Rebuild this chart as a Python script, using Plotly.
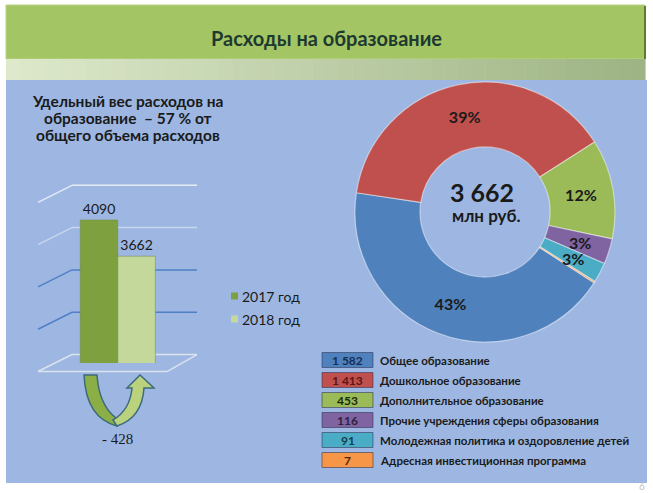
import math
import plotly.graph_objects as go

W, H = 653, 493

# ---------------- data ----------------
title_text = "Расходы на образование"
share_lines = ["Удельный вес расходов на", "образование  – 57 % от", "общего объема расходов"]
years = ["2017 год", "2018 год"]
totals = [4090, 3662]
year_colors = ["#7FA03F", "#C4D89C"]

categories = ["Общее образование", "Дошкольное образование", "Дополнительное образование",
              "Прочие учреждения сферы образования", "Молодежная политика и оздоровление детей",
              "Адресная инвестиционная программа"]
amounts = [1582, 1413, 453, 116, 91, 7]
amount_labels = ["1 582", "1 413", "453", "116", "91", "7"]
pct_labels = ["43%", "39%", "12%", "3%", "3%", ""]
slice_colors = ["#4F81BD", "#C0504D", "#9BBB59", "#8064A2", "#4BACC6", "#F79646"]
box_text_colors = ["#172E55", "#5A1514", "#1A2A0A", "#2E2240", "#143F4C", "#4A2406"]
center_total = "3 662"
center_unit = "млн руб."
page_no = "6"

FONT = "Lato"
DARK = "#1A1A1A"


def px(x):
    return x / W


def py(y):
    return 1 - y / H


shapes = []
annotations = []


def note(text, x, y, size, color=DARK, bold=False, family=FONT, xanchor="center", align="center"):
    annotations.append(dict(text=text, x=px(x), y=py(y), xref="paper", yref="paper",
                            xanchor=xanchor, yanchor="middle", showarrow=False, align=align,
                            font=dict(family=family, size=size, color=color,
                                      weight="bold" if bold else "normal")))


# ---------------- slide background ----------------
shapes.append(dict(type="rect", xref="paper", yref="paper", layer="below",
                   x0=px(6), x1=px(647), y0=py(483), y1=py(80),
                   fillcolor="#9DB7E2", line=dict(width=0)))
shapes.append(dict(type="rect", xref="paper", yref="paper", layer="below",
                   x0=px(6), x1=px(645), y0=py(59), y1=py(5),
                   fillcolor="#A3C564", line=dict(color="#B9D484", width=1)))
shapes.append(dict(type="line", xref="paper", yref="paper", layer="below",
                   x0=px(645), x1=px(645), y0=py(59), y1=py(6),
                   line=dict(color="#5F7A33", width=2)))
n_strip = 48
c0, c1 = (222, 233, 204), (158, 180, 132)
for i in range(n_strip):
    t = i / (n_strip - 1)
    col = tuple(int(c0[k] + (c1[k] - c0[k]) * t) for k in range(3))
    xa = 6 + (645 - 6) * i / n_strip
    xb = 6 + (645 - 6) * (i + 1) / n_strip + 0.6
    shapes.append(dict(type="rect", xref="paper", yref="paper", layer="below",
                       x0=px(xa), x1=px(xb), y0=py(80), y1=py(59),
                       fillcolor="rgb(%d,%d,%d)" % col, line=dict(width=0)))

note(title_text, 326, 38, 20, color="#1E3A30", bold=True)
for i, line in enumerate(share_lines):
    note(line, 127.5, 101 + 17 * i, 15.5, bold=True)
note(page_no, 642, 486, 10, color="#BFBFBF")

# ---------------- bar chart (left) ----------------
Y0, Y1 = 2400, 5000
BAR_TOP_PX, BAR_BOT_PX = 143, 363


def vpx(v):
    return BAR_BOT_PX - (v - Y0) * (BAR_BOT_PX - BAR_TOP_PX) / (Y1 - Y0)


grid_vals = [2500, 3000, 3500, 4000, 4500]
grid_cols = ["#DCE3EE", "#4F7FC6", "#4F7FC6", "#C8D6EE", "#E4EBF6"]
for v, c in zip(grid_vals, grid_cols):
    yb = vpx(v)
    shapes.append(dict(type="line", xref="paper", yref="paper", layer="below",
                       x0=px(72), x1=px(197), y0=py(yb), y1=py(yb), line=dict(color=c, width=1.5)))
    shapes.append(dict(type="line", xref="paper", yref="paper", layer="below",
                       x0=px(72), x1=px(38), y0=py(yb), y1=py(yb + 17), line=dict(color=c, width=1.5)))
fy = vpx(grid_vals[0])
shapes.append(dict(type="line", xref="paper", yref="paper", layer="below",
                   x0=px(38), x1=px(167), y0=py(fy + 17), y1=py(fy + 17), line=dict(color="#DCE3EE", width=1.5)))
shapes.append(dict(type="line", xref="paper", yref="paper", layer="below",
                   x0=px(167), x1=px(197), y0=py(fy + 17), y1=py(fy), line=dict(color="#DCE3EE", width=1.5)))

fig = go.Figure()
for yr, val, col in zip(years, totals, year_colors):
    fig.add_trace(go.Bar(x=[yr], y=[val], width=1, name=yr,
                         marker=dict(color=col, line=dict(color="#6F8C37", width=0.5)),
                         text=[str(val)], textposition="outside", cliponaxis=False,
                         textfont=dict(family=FONT, size=14, color=DARK),
                         showlegend=False, xaxis="x", yaxis="y"))

# custom legend for bars
for i, (yr, col) in enumerate(zip(years, year_colors)):
    yc = 296 + 23 * i
    shapes.append(dict(type="rect", xref="paper", yref="paper",
                       x0=px(231), x1=px(238), y0=py(yc + 3.5), y1=py(yc - 3.5),
                       fillcolor=col, line=dict(width=0)))
    note(yr, 240, yc, 14, xanchor="left")


# curved arrow (decoration)
def pth(cmds):
    out = []
    for c in cmds:
        if isinstance(c, str):
            out.append(c)
        else:
            out.append("%.5f,%.5f" % (px(c[0]), py(c[1])))
    return " ".join(out)


left_arm = pth(["M", (84, 375), "L", (97, 375), "Q", (99, 405), (116, 418), "L", (117, 426),
                "Q", (86, 418), (84, 375), "Z"])
right_arm = pth(["M", (117, 426), "Q", (142, 418), (144, 388), "L", (154, 388), "L", (140, 375),
                 "L", (127, 388), "L", (132, 388), "Q", (130, 410), (113, 420), "Z"])
shapes.append(dict(type="path", xref="paper", yref="paper", path=left_arm,
                   fillcolor="#8BAE46", line=dict(color="#3D6B7A", width=1.5)))
shapes.append(dict(type="path", xref="paper", yref="paper", path=right_arm,
                   fillcolor="#BAD27E", line=dict(color="#3D6B7A", width=1.5)))
diff = totals[1] - totals[0]
note(("- %d" % abs(diff)) if diff < 0 else "+ %d" % diff, 118, 439, 15, family="Liberation Serif")

# ---------------- donut (right) ----------------
CX, CY, R = 485, 212, 130
ROT = 123
total = sum(amounts)
textpos = ["inside" if a / total > 0.05 else "none" for a in amounts]
fig.add_trace(go.Pie(values=amounts, labels=categories, text=pct_labels, textinfo="text",
                     textposition=textpos, insidetextorientation="horizontal",
                     sort=False, direction="clockwise", rotation=ROT, hole=0.5,
                     marker=dict(colors=slice_colors, line=dict(color="rgba(255,255,255,0.45)", width=1.2)),
                     textfont=dict(family=FONT, size=16, color=DARK, weight="bold"),
                     domain=dict(x=[px(CX - R), px(CX + R)], y=[py(CY + R), py(CY - R)]),
                     showlegend=False, hoverinfo="label+value"))

cum = 0
for a, lab, tp in zip(amounts, pct_labels, textpos):
    mid = ROT + (cum + a / 2) / total * 360
    cum += a
    if tp == "none" and lab:
        th = math.radians(90 - mid)
        note(lab, CX + 100 * math.cos(th), CY - 100 * math.sin(th), 16, bold=True)

note(center_total, 482, 192, 25, bold=True)
note(center_unit, 487, 215, 17, bold=True)

# ---------------- value table (bottom right) ----------------
for i, (cat, lab, col, tcol) in enumerate(zip(categories, amount_labels, slice_colors, box_text_colors)):
    yc = 360 + 20 * i
    shapes.append(dict(type="rect", xref="paper", yref="paper",
                       x0=px(322), x1=px(373), y0=py(yc + 7.5), y1=py(yc - 7.5),
                       fillcolor=col, line=dict(color="rgba(40,50,80,0.55)", width=1)))
    note(lab, 347.5, yc, 12, color=tcol, bold=True)
    note(cat, 378, yc, 11.5, bold=True, xanchor="left")

fig.update_layout(
    width=W, height=H, margin=dict(l=0, r=0, t=0, b=0),
    paper_bgcolor="white", plot_bgcolor="rgba(0,0,0,0)",
    barmode="overlay", showlegend=False,
    xaxis=dict(domain=[px(72), px(197)], range=[-0.72, 2.61], visible=False,
               categoryorder="array", categoryarray=years),
    yaxis=dict(domain=[py(BAR_BOT_PX), py(BAR_TOP_PX)], range=[Y0, Y1], visible=False),
    shapes=shapes, annotations=annotations,
)

fig.write_html("out.html")
